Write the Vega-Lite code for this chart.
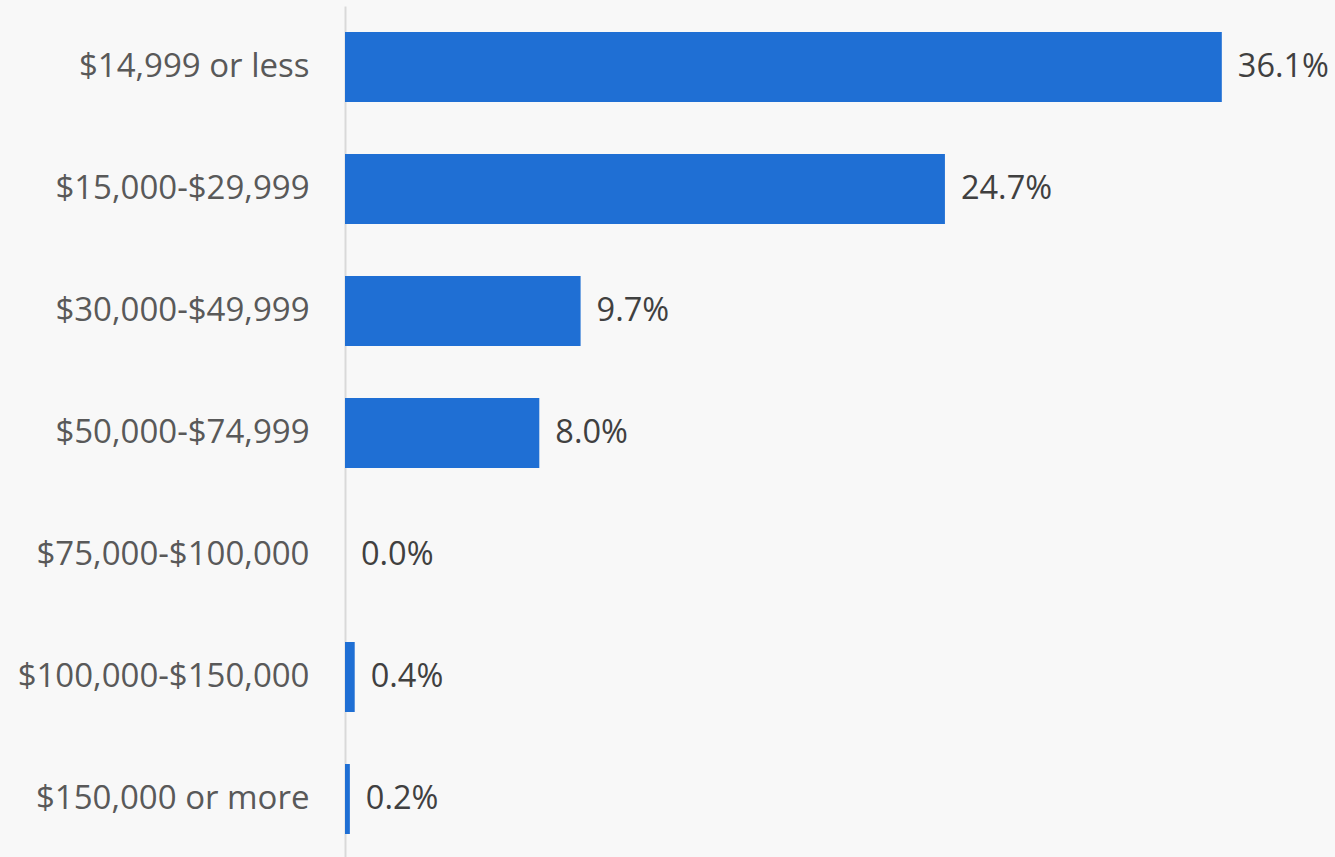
{
  "$schema": "https://vega.github.io/schema/vega-lite/v6.json",
  "width": 990,
  "height": 854,
  "autosize": "none",
  "padding": {"left": 345, "top": 6, "right": 0, "bottom": 0},
  "background": "#f8f8f8",
  "config": {"view": {"stroke": null}},
  "data": {"values": [
    {"range": "$14,999 or less", "pct": 0.361},
    {"range": "$15,000-$29,999", "pct": 0.247},
    {"range": "$30,000-$49,999", "pct": 0.097},
    {"range": "$50,000-$74,999", "pct": 0.080},
    {"range": "$75,000-$100,000", "pct": 0.0},
    {"range": "$100,000-$150,000", "pct": 0.004},
    {"range": "$150,000 or more", "pct": 0.002}
  ]},
  "encoding": {
    "y": {"field": "range", "type": "nominal", "sort": null,
      "scale": {"paddingInner": 0.426, "paddingOuter": 0.213},
      "axis": {"title": null, "ticks": false, "labelPadding": 36, "labelFont": "Open Sans", "labelFontSize": 33, "labelColor": "#595959", "domainColor": "#d9d9d9", "domainWidth": 2, "labelLimit": 400}},
    "x": {"field": "pct", "type": "quantitative", "scale": {"domain": [0, 0.4076], "nice": false, "zero": true}, "axis": null}
  },
  "layer": [
    {"mark": {"type": "bar", "color": "#1f6fd4"}},
    {"mark": {"type": "text", "align": "left", "baseline": "middle", "dx": 16, "font": "Open Sans", "fontSize": 32.5, "color": "#404040"},
      "encoding": {"text": {"field": "pct", "type": "quantitative", "format": ".1%"}}}
  ]
}
